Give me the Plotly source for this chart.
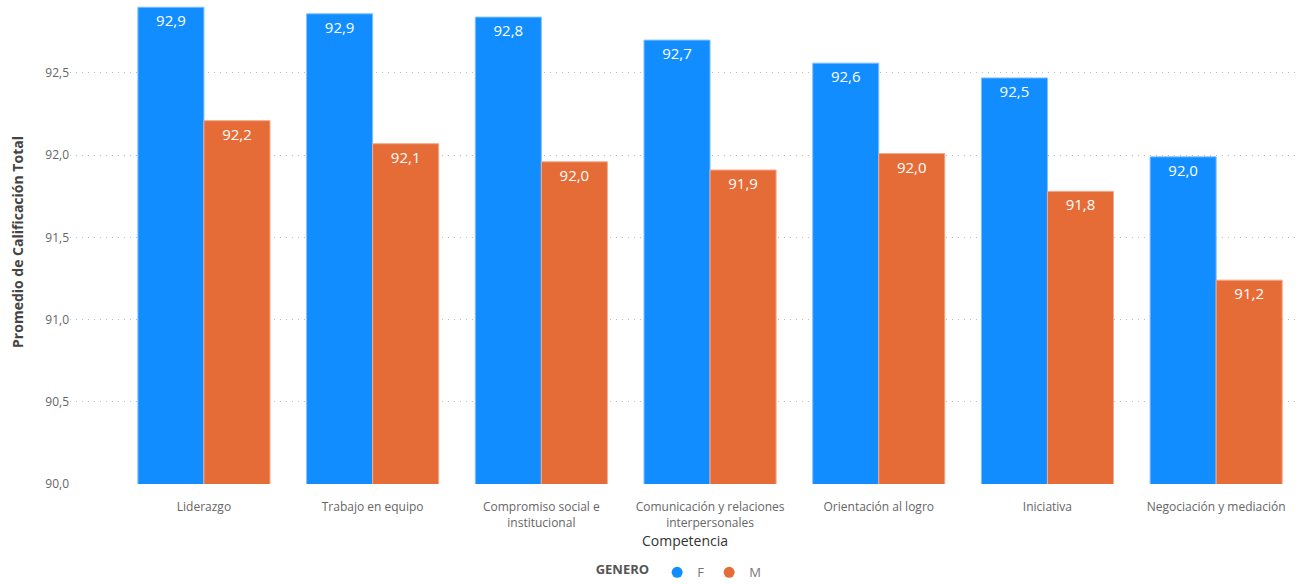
import plotly.graph_objects as go

categories = ["Liderazgo", "Trabajo en equipo", "Compromiso social e<br>institucional",
              "Comunicación y relaciones<br>interpersonales", "Orientación al logro",
              "Iniciativa", "Negociación y mediación"]
f_values = [92.90, 92.86, 92.84, 92.70, 92.56, 92.47, 91.99]
m_values = [92.21, 92.07, 91.96, 91.91, 92.01, 91.78, 91.24]
y_ticks = [90.0, 90.5, 91.0, 91.5, 92.0, 92.5]

BLUE = "#118DFF"
ORANGE = "#E66C37"
FONT = "Open Sans, Segoe UI, sans-serif"

fig = go.Figure()
for name, vals, col, edge in [("F", f_values, BLUE, "#7fc0ff"), ("M", m_values, ORANGE, "#f3a98a")]:
    fig.add_trace(go.Bar(x=categories, y=vals, name=name,
                         marker=dict(color=col, line=dict(color=edge, width=1)),
                         text=[f"{v:.1f}".replace(".", ",") for v in vals], textposition="inside",
                         insidetextanchor="end", textfont=dict(color="white", size=15, family=FONT),
                         showlegend=False, hoverinfo="skip"))
for name, col in [("F", BLUE), ("M", ORANGE)]:
    fig.add_trace(go.Scatter(x=[None], y=[None], mode="markers", name=name,
                             marker=dict(symbol="circle", size=11, color=col)))

fig.update_layout(
    width=1308, height=584,
    margin=dict(l=70, r=8, t=0, b=100),
    paper_bgcolor="white", plot_bgcolor="white",
    separators=",.",
    barmode="group", bargap=0.217, bargroupgap=0,
    font=dict(family=FONT, color="#666666", size=12),
    legend=dict(orientation="h", x=0.52, xanchor="center", xref="container",
                y=0.02, yanchor="middle", yref="container",
                title=dict(text="<b>GENERO</b>", font=dict(size=13, color="#555555")),
                font=dict(size=13, color="#777777"), itemwidth=30),
)
fig.update_xaxes(type="category", range=[-0.794, 6.497], showgrid=False, showline=False,
                 ticks="", ticklabelstandoff=14, tickfont=dict(size=12, color="#666666"),
                 title=dict(text="Competencia", font=dict(size=14, color="#333333"), standoff=6))
fig.update_yaxes(range=[90, 92.944], tickvals=y_ticks, tickformat=".1f",
                 showgrid=True, gridcolor="#bdbdbd", griddash="1px,5px", gridwidth=1,
                 zeroline=False, showline=False, ticks="",
                 tickfont=dict(size=12, color="#666666"),
                 title=dict(text="<b>Promedio de Calificación Total</b>",
                            font=dict(size=14, color="#444444"), standoff=18))

fig.write_html("out.html")
